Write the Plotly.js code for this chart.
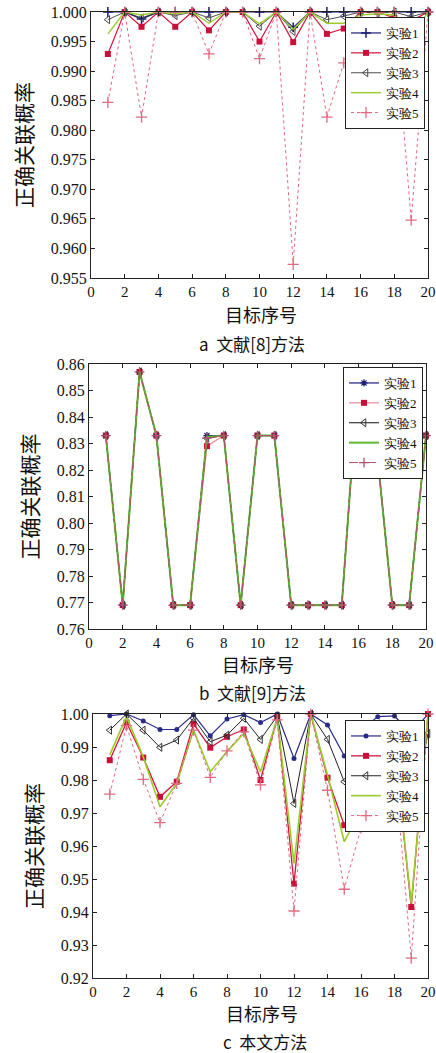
<!DOCTYPE html>
<html><head><meta charset="utf-8">
<script src="https://cdn.plot.ly/plotly-3.0.1.min.js"></script>
<style>html,body{margin:0;padding:0;background:#fff}</style>
</head><body>
<div id="chart" style="width:436px;height:1053px"></div>
<script>
// ---------- data ----------
const targets = [1,2,3,4,5,6,7,8,9,10,11,12,13,14,15,16,17,18,19,20];
const seriesNames = ['实验1','实验2','实验3','实验4','实验5'];
const yTitle = '正确关联概率';
const xTitle = '目标序号';
const captions = ['a  文献[8]方法','b  文献[9]方法','c  本文方法'];

// panel a: 文献[8]方法
const a1 = [1.000,1.000,0.9988,1.000,1.000,1.000,1.000,1.000,1.000,1.000,1.000,0.9974,1.000,1.000,1.000,1.000,1.000,1.000,1.000,1.000];
const a2 = [0.9929,1.000,0.9975,1.000,0.9975,1.000,0.9969,1.000,1.000,0.9950,1.000,0.9949,1.000,0.9963,0.9972,1.000,1.000,0.9990,0.9985,1.000];
const a3 = [0.9987,1.000,0.9990,1.000,0.9994,1.000,0.9990,1.000,1.000,0.9976,1.000,0.9967,1.000,0.9987,0.9993,1.000,0.9999,1.000,0.9992,1.000];
const a4 = [0.9963,1.000,0.9995,1.000,0.9997,1.000,0.9981,1.000,1.000,0.9980,1.000,0.9971,1.000,0.9981,0.9981,0.9995,0.9997,0.9995,0.9955,1.000];
const a5 = [0.9847,1.000,0.9822,1.000,1.000,1.000,0.9929,1.000,1.000,0.9921,1.000,0.9573,1.000,0.9822,0.9914,1.000,1.000,1.000,0.9648,1.000];

// panel b: 文献[9]方法
const b1 = [0.833,0.769,0.857,0.833,0.769,0.769,0.833,0.833,0.769,0.833,0.833,0.769,0.769,0.769,0.769,0.857,0.833,0.769,0.769,0.833];
const b2 = [0.833,0.769,0.857,0.833,0.769,0.769,0.829,0.833,0.769,0.833,0.833,0.769,0.769,0.769,0.769,0.857,0.833,0.769,0.769,0.833];
const b3 = [0.833,0.769,0.857,0.833,0.769,0.769,0.832,0.833,0.769,0.833,0.833,0.769,0.769,0.769,0.769,0.857,0.833,0.769,0.769,0.833];
const b4 = [0.833,0.769,0.857,0.833,0.769,0.769,0.8325,0.833,0.769,0.833,0.833,0.769,0.769,0.769,0.769,0.857,0.833,0.769,0.769,0.833];
const b5 = [0.833,0.769,0.857,0.833,0.769,0.769,0.832,0.833,0.769,0.833,0.833,0.769,0.769,0.769,0.769,0.857,0.833,0.769,0.769,0.833];

// panel c: 本文方法
const c1 = [0.9995,1.000,0.9979,0.9953,0.9953,0.9998,0.9934,0.9985,0.9998,0.9974,1.000,0.9865,1.000,0.9967,0.9873,0.9950,0.9992,0.9994,0.9940,1.000];
const c2 = [0.9860,0.9974,0.9868,0.9749,0.9795,0.9970,0.9898,0.9931,0.9953,0.9800,0.9990,0.9486,1.000,0.9807,0.9663,0.9706,0.9950,0.9900,0.9415,1.000];
const c3 = [0.9951,1.000,0.9951,0.9899,0.9921,0.9987,0.9916,0.9936,0.9987,0.9923,0.9994,0.9729,1.000,0.9923,0.9795,0.9850,0.9970,0.9960,0.9694,0.9941];
const c4 = [0.9876,0.9992,0.9870,0.9719,0.9790,0.9951,0.9825,0.9886,0.9941,0.9825,0.9987,0.9547,1.000,0.9815,0.9613,0.9709,0.9950,0.9900,0.9426,1.000];
const c5 = [0.9757,0.9965,0.9802,0.9671,0.9790,0.9951,0.9808,0.9888,0.9946,0.9785,0.9982,0.9403,1.000,0.9769,0.9469,0.9655,0.9930,0.9850,0.9260,1.000];

// ---------- styles ----------
const W = 436, H = 1053;
const serif = 'serif';
const cjk = 'Noto Sans CJK SC, sans-serif';

const styleA = [
  {line:{color:'#1c1c7a',width:1.2}, marker:{symbol:'cross-thin-open',size:7,line:{color:'#3a3aa0',width:1.5}}},
  {line:{color:'#d4143c',width:1.2}, marker:{symbol:'square',size:6,color:'#c81038',line:{color:'#c81038',width:0}}},
  {line:{color:'#222222',width:0.8}, marker:{symbol:'triangle-left-open',size:7,color:'#444',line:{color:'#444',width:1}}},
  {line:{color:'#9ccc2c',width:1.4}, marker:{size:0}, mode:'lines'},
  {line:{color:'#e06a80',width:1,dash:'dot'}, marker:{symbol:'cross-thin-open',size:8,line:{color:'#d01030',width:1.3}}}
];
const styleB = [
  {line:{color:'#1c1c7a',width:1.2}, marker:{symbol:'asterisk-open',size:6,line:{color:'#3a3aa0',width:1.2}}},
  {line:{color:'#f08a9a',width:1.2}, marker:{symbol:'square',size:6,color:'#c81038',line:{width:0}}},
  {line:{color:'#111111',width:1}, marker:{symbol:'triangle-left-open',size:7,color:'#333',line:{color:'#333',width:1}}},
  {line:{color:'#5cb82e',width:2}, marker:{size:0}, mode:'lines'},
  {line:{color:'#b05070',width:1,dash:'dashdot'}, marker:{symbol:'cross-thin-open',size:7,line:{color:'#c01040',width:1.3}}}
];
const styleC = [
  {line:{color:'#2a2a8a',width:1.2}, marker:{symbol:'circle',size:5,color:'#2a2a8a'}},
  {line:{color:'#d4143c',width:1.3}, marker:{symbol:'square',size:6,color:'#c81038',line:{width:0}}},
  {line:{color:'#222222',width:1}, marker:{symbol:'triangle-left-open',size:7,color:'#333',line:{color:'#333',width:1}}},
  {line:{color:'#9ccc2c',width:1.6}, marker:{size:0}, mode:'lines'},
  {line:{color:'#e06a80',width:1,dash:'dot'}, marker:{symbol:'cross-thin-open',size:8,line:{color:'#d01030',width:1.3}}}
];

const panels = [
  {series:[a1,a2,a3,a4,a5], style:styleA, xa:'x',  ya:'y',  lg:'legend'},
  {series:[b1,b2,b3,b4,b5], style:styleB, xa:'x2', ya:'y2', lg:'legend2'},
  {series:[c1,c2,c3,c4,c5], style:styleC, xa:'x3', ya:'y3', lg:'legend3'}
];

const traces = [];
panels.forEach(p => {
  p.series.forEach((ys, i) => {
    const st = p.style[i];
    traces.push({
      type:'scatter', x:targets, y:ys, name:seriesNames[i],
      mode: st.mode || 'lines+markers',
      line: st.line, marker: st.marker,
      xaxis:p.xa, yaxis:p.ya, legend:p.lg, cliponaxis:false
    });
  });
});

const px = v => v / W;
const py = v => 1 - v / H;

function xAxis(l, r, anchor) {
  return {
    domain:[px(l), px(r)], anchor:anchor, range:[0,20], tickvals:[0,2,4,6,8,10,12,14,16,18,20],
    ticks:'inside', ticklen:4, tickcolor:'#222', showline:true, linecolor:'#222', linewidth:1,
    mirror:'ticks', showgrid:false, zeroline:false,
    tickfont:{family:serif, size:15, color:'#111'},
    automargin:false
  };
}
function yAxis(t, b, anchor, range, step, fmt) {
  return {
    domain:[py(b), py(t)], anchor:anchor, range:range, dtick:step, tick0:range[0], tickformat:fmt,
    ticks:'inside', ticklen:4, tickcolor:'#222', showline:true, linecolor:'#222', linewidth:1,
    mirror:'ticks', showgrid:false, zeroline:false,
    tickfont:{family:serif, size:16, color:'#111'},
    title:{text:yTitle, font:{family:cjk, size:21, color:'#111'}, standoff:12},
    automargin:false
  };
}
function legendAt(l, t) {
  return {
    x:px(l), y:py(t), xanchor:'left', yanchor:'top', bgcolor:'#ffffff',
    bordercolor:'#222', borderwidth:1, font:{family:serif, size:13, color:'#111'},
    itemwidth:30, tracegroupgap:0
  };
}

const capFont = {family:cjk, size:17, color:'#111'};
const xtFont = {family:cjk, size:18, color:'#111'};
function ann(text, x, y, font) {
  return {text:text, x:px(x), y:py(y), xref:'paper', yref:'paper', xanchor:'center', yanchor:'middle', showarrow:false, font:font};
}
const layout = {
  width:W, height:H, margin:{l:0,r:0,t:0,b:0},
  paper_bgcolor:'#fff', plot_bgcolor:'#fff', showlegend:true,
  xaxis: xAxis(91, 428, 'y'),
  yaxis: yAxis(12, 278, 'x', [0.955, 1.000], 0.005, '.3f'),
  xaxis2: xAxis(89, 426, 'y2'),
  yaxis2: yAxis(364, 629, 'x2', [0.76, 0.86], 0.01, '.2f'),
  xaxis3: xAxis(93, 428, 'y3'),
  yaxis3: yAxis(714, 978, 'x3', [0.92, 1.00], 0.01, '.2f'),
  legend: legendAt(345, 17),
  legend2: legendAt(343, 367),
  legend3: legendAt(345, 720),
  annotations: [
    ann(xTitle, 261, 314, xtFont),
    ann(captions[0], 252, 343, capFont),
    ann(xTitle, 258, 664, xtFont),
    ann(captions[1], 252, 692, capFont),
    ann(xTitle, 262, 1013, xtFont),
    ann(captions[2], 265, 1041, capFont)
  ]
};

Plotly.newPlot('chart', traces, layout, {staticPlot:true, displayModeBar:false});
</script>
</body></html>
